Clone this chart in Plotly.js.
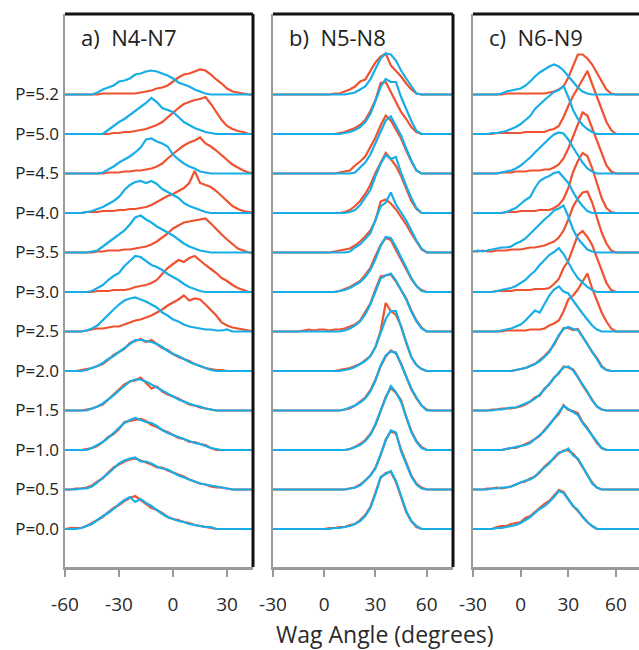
<!DOCTYPE html>
<html><head><meta charset="utf-8">
<script src="https://cdn.plot.ly/plotly-3.0.1.min.js"></script>
<style>html,body{margin:0;padding:0;background:#fff}#chart{width:639px;height:650px}</style>
</head><body><div id="chart"></div>
<script>
// ---------- DATA ----------
const pressures = ['P=0.0','P=0.5','P=1.0','P=1.5','P=2.0','P=2.5','P=3.0','P=3.5','P=4.0','P=4.5','P=5.0','P=5.2'];
const panelTitles = ['a)  N4-N7','b)  N5-N8','c)  N6-N9'];
const xTitle = 'Wag Angle (degrees)';
const ticksA = [-60,-30,0,30];
const ticksBC = [-30,0,30,60];
// wag-angle bins (degrees)
const anglesA = [-60,-57,-54,-51,-48,-45,-42,-39,-36,-33,-30,-27,-24,-21,-18,-15,-12,-9,-6,-3,0,3,6,9,12,15,18,21,24,27,30,33,36,39,42,45];
const anglesBC = [-30,-27,-24,-21,-18,-15,-12,-9,-6,-3,0,3,6,9,12,15,18,21,24,27,30,33,36,39,42,45,48,51,54,57,60,63,66,69,72,75];

// distributions (arbitrary units), one row per pressure P=0.0 ... P=5.2
const aRed = [
[0,1,1,1,3,6,9,12,17,21,24,28,31,33,29,25,21,19,16,12,10,9,7,6,4,3,2,1,0,0,0,0,0,0,0,0],
[0,0,1,1,2,4,8,11,17,22,25,28,30,31,29,27,25,22,22,19,17,15,13,10,8,6,5,3,2,2,1,0,0,0,0,0],
[0,0,0,0,1,2,4,8,13,16,21,28,29,30,31,29,25,23,20,18,15,12,11,8,8,6,5,2,0,0,0,0,0,0,0,0],
[0,0,0,0,1,2,4,6,11,16,20,26,29,30,33,27,22,24,19,16,14,12,9,6,5,3,2,1,0,0,0,0,0,0,0,0],
[0,0,0,1,2,3,5,7,11,16,19,22,28,30,32,29,31,27,23,21,17,14,12,10,7,5,3,2,1,1,0,0,0,0,0,0],
[0,0,0,0,1,2,3,3,4,5,5,7,9,11,12,14,16,19,22,26,29,32,36,31,33,32,27,22,16,9,6,4,3,2,1,0],
[0,0,0,0,0,0,1,1,1,2,2,2,3,5,6,7,9,12,18,24,28,32,30,34,36,31,27,23,19,14,11,7,4,2,0,0],
[0,0,0,0,0,0,1,1,2,2,2,3,3,4,5,6,8,11,15,19,24,27,30,31,32,33,34,29,23,18,13,8,4,2,0,0],
[0,0,0,0,1,1,1,2,2,2,3,3,4,4,5,6,8,11,14,17,19,22,25,30,42,30,28,26,22,17,12,7,4,2,1,0],
[0,0,0,0,0,0,0,0,1,1,1,2,2,3,3,4,5,7,10,15,20,24,28,31,33,36,30,27,23,18,13,9,6,3,1,0],
[0,0,0,0,0,0,0,0,0,1,1,2,2,3,4,5,7,9,12,17,22,26,30,32,34,35,37,30,22,14,8,5,3,2,0,0],
[0,0,0,0,0,0,0,1,1,1,1,1,1,1,2,3,4,6,7,9,13,17,20,21,23,25,24,20,15,11,6,3,2,1,0,0]
];
const aBlue = [
[0,0,0,1,3,5,9,13,16,20,25,29,32,27,30,26,23,19,15,12,10,8,7,5,4,3,2,2,0,0,0,0,0,0,0,0],
[0,0,0,1,1,3,7,12,16,21,26,29,31,32,28,28,26,23,21,20,17,14,12,10,8,6,5,4,3,2,1,0,0,0,0,0],
[0,0,0,0,0,2,5,8,12,17,22,27,30,32,30,28,27,24,20,17,15,13,11,9,7,6,4,2,1,0,0,0,0,0,0,0],
[0,0,0,0,0,2,4,7,11,15,20,25,29,31,31,29,26,23,20,17,14,11,9,7,5,4,2,1,0,0,0,0,0,0,0,0],
[0,0,0,0,1,3,5,8,12,15,19,23,27,31,31,30,29,27,24,20,17,15,12,9,7,5,3,1,0,0,0,0,0,0,0,0],
[0,0,0,0,1,3,6,11,16,22,27,31,33,34,32,30,27,24,19,16,12,10,7,5,4,3,2,2,1,1,2,0,0,0,0,0],
[0,0,0,0,0,1,4,7,12,16,19,26,31,36,35,31,27,25,22,18,15,12,8,5,3,1,0,0,0,0,0,0,0,0,0,0],
[0,0,0,0,0,1,2,6,10,14,18,22,28,35,37,33,30,26,23,20,17,13,9,6,4,2,1,0,0,0,0,0,0,0,0,0],
[0,0,0,0,1,2,4,6,9,12,16,23,28,31,32,30,32,29,24,21,18,15,10,7,5,3,1,0,0,0,0,0,0,0,0,0],
[0,0,0,0,0,0,0,1,4,7,11,14,17,21,26,34,35,32,30,27,19,14,10,7,5,2,1,0,0,0,0,0,0,0,0,0],
[0,0,0,0,0,0,0,0,4,8,12,15,19,23,27,31,36,32,26,24,22,17,12,9,6,4,2,1,0,0,0,0,0,0,0,0],
[0,0,0,0,0,0,2,5,7,9,13,14,16,20,21,23,24,23,21,19,16,12,10,8,5,3,1,0,0,0,0,0,0,0,0,0]
];
const bRed = [
[0,0,0,0,0,0,0,0,0,0,0,1,1,2,2,4,5,9,14,22,36,51,56,57,47,31,17,8,2,0,0,0,0,0,0,0],
[0,0,0,0,0,0,0,0,0,0,0,0,0,0,0,1,2,5,9,14,22,34,50,58,56,40,26,14,6,2,0,0,0,0,0,0],
[0,0,0,0,0,0,0,0,0,0,0,0,0,0,0,1,3,6,10,16,25,39,53,62,57,50,33,19,9,3,0,0,0,0,0,0],
[0,0,0,0,0,0,0,0,0,0,0,0,0,0,1,2,5,9,13,20,31,44,54,60,57,47,34,21,12,5,1,0,0,0,0,0],
[0,0,0,0,0,0,0,0,0,0,0,0,0,1,2,3,5,7,11,15,24,40,68,60,56,45,28,14,6,2,0,0,0,0,0,0],
[0,0,0,0,0,0,1,2,1,2,2,1,2,2,3,5,7,11,19,28,42,55,56,57,50,42,33,21,11,4,0,0,0,0,0,0],
[0,0,0,0,0,0,0,0,0,0,0,0,0,1,3,5,8,11,17,24,36,47,54,52,42,32,22,13,6,2,0,0,0,0,0,0],
[0,0,0,0,0,0,0,0,0,0,0,0,1,2,3,4,7,11,16,22,32,51,53,49,43,36,28,19,11,3,0,0,0,0,0,0],
[0,0,0,0,0,0,0,0,0,0,0,0,0,0,1,3,7,12,19,28,40,50,60,54,47,37,25,12,4,0,0,0,0,0,0,0],
[0,0,0,0,0,0,0,0,0,0,0,0,0,1,2,3,8,12,17,26,36,48,58,53,44,35,23,12,3,0,0,0,0,0,0,0],
[0,0,0,0,0,0,0,0,0,0,0,0,0,1,2,4,6,9,14,23,34,51,52,42,32,22,15,7,2,0,0,0,0,0,0,0],
[0,0,0,0,0,0,0,0,0,0,0,0,1,1,3,5,8,13,15,24,32,38,41,29,24,18,11,5,1,0,0,0,0,0,0,0]
];
const bBlue = [
[0,0,0,0,0,0,0,0,0,0,0,0,1,1,2,3,5,8,13,21,35,52,55,58,48,32,18,8,3,0,0,0,0,0,0,0],
[0,0,0,0,0,0,0,0,0,0,0,0,0,0,0,1,2,4,9,14,21,34,49,59,57,38,25,13,5,1,0,0,0,0,0,0],
[0,0,0,0,0,0,0,0,0,0,0,0,0,0,0,1,3,5,9,15,26,40,52,64,58,48,33,18,8,2,0,0,0,0,0,0],
[0,0,0,0,0,0,0,0,0,0,0,0,0,0,1,3,5,8,12,19,30,45,55,59,58,46,33,22,13,5,0,0,0,0,0,0],
[0,0,0,0,0,0,0,0,0,0,0,0,0,0,1,2,4,7,10,15,24,38,52,60,60,44,28,14,6,2,0,0,0,0,0,0],
[0,0,0,0,0,0,0,0,0,0,0,0,0,0,1,3,6,10,17,27,40,53,56,58,51,42,32,20,10,3,0,0,0,0,0,0],
[0,0,0,0,0,0,0,0,0,0,0,0,0,1,2,4,7,10,15,22,33,46,55,54,45,35,24,14,6,1,0,0,0,0,0,0],
[0,0,0,0,0,0,0,0,0,0,0,0,0,0,0,1,5,8,13,19,33,46,50,60,48,40,32,22,12,4,0,0,0,0,0,0],
[0,0,0,0,0,0,0,0,0,0,0,0,0,0,0,1,3,8,15,23,37,49,58,54,56,40,27,15,5,0,0,0,0,0,0,0],
[0,0,0,0,0,0,0,0,0,0,0,0,0,0,0,0,1,6,11,19,30,42,53,57,47,38,25,13,3,0,0,0,0,0,0,0],
[0,0,0,0,0,0,0,0,0,0,0,0,0,0,1,2,4,7,12,20,33,47,55,52,52,37,25,13,3,0,0,0,0,0,0,0],
[0,0,0,0,0,0,0,0,0,0,0,0,0,0,0,1,2,5,8,15,25,36,41,40,34,24,16,9,1,0,0,0,0,0,0,0]
];
const cRed = [
[0,0,0,0,0,2,3,3,5,6,7,11,13,17,21,25,28,33,39,37,30,23,18,12,7,3,0,0,0,0,0,0,0,0,0,0],
[0,0,0,1,1,2,1,2,3,5,7,8,11,13,17,23,27,31,36,39,39,36,30,22,14,7,2,0,0,0,0,0,0,0,0,0],
[0,0,0,0,0,0,0,1,2,2,4,6,8,11,14,20,26,31,36,45,40,39,37,28,22,14,7,2,0,0,0,0,0,0,0,0],
[0,0,0,0,1,1,2,2,2,3,4,6,9,13,15,22,26,33,37,44,43,41,34,25,18,11,4,1,0,0,0,0,0,0,0,0],
[0,0,0,0,0,0,0,0,0,1,2,3,5,7,11,15,20,26,35,43,43,41,42,35,27,19,13,5,1,0,0,0,0,0,0,0],
[0,0,0,0,0,0,0,1,1,1,1,1,2,2,2,3,6,8,11,20,32,36,42,50,58,43,30,19,10,3,0,0,0,0,0,0],
[0,0,0,0,0,1,1,1,1,2,2,2,2,3,3,3,4,8,13,24,31,43,57,61,55,47,34,21,9,2,0,0,0,0,0,0],
[1,1,2,1,1,2,2,2,3,3,3,4,5,5,6,7,9,11,15,22,33,46,54,60,61,50,35,20,9,2,0,0,0,0,0,0],
[0,0,0,0,0,0,0,1,1,1,2,2,2,2,3,3,3,5,8,14,25,41,52,60,57,45,29,15,5,1,0,0,0,0,0,0],
[0,0,0,0,0,0,1,1,1,2,2,2,3,3,3,4,4,6,9,15,25,37,50,61,58,46,33,20,8,2,0,0,0,0,0,0],
[0,0,0,0,0,1,1,1,1,1,1,2,2,2,2,2,4,5,8,17,28,38,46,54,63,50,37,25,12,4,0,0,0,0,0,0],
[0,0,0,0,0,0,0,1,1,1,1,1,1,1,1,1,2,3,5,8,17,29,40,40,36,30,22,13,5,1,0,0,0,0,0,0]
];
const cBlue = [
[0,0,0,0,0,1,1,2,3,4,6,9,12,16,20,23,27,32,38,36,30,23,19,12,7,3,0,0,0,0,0,0,0,0,0,0],
[0,0,0,0,1,1,2,2,3,5,7,9,10,13,18,22,26,32,37,38,41,34,31,23,15,6,2,0,0,0,0,0,0,0,0,0],
[0,0,0,0,0,0,0,1,2,3,4,5,7,11,15,19,25,31,37,44,41,38,35,27,21,15,8,2,0,0,0,0,0,0,0,0],
[0,0,0,0,0,1,1,2,3,3,5,7,9,12,16,21,27,32,38,43,44,40,33,26,19,10,4,1,0,0,0,0,0,0,0,0],
[0,0,0,0,0,0,0,0,0,1,2,3,5,7,10,14,19,27,36,42,44,42,41,34,27,20,12,4,1,0,0,0,0,0,0,0],
[0,0,0,0,0,0,1,2,3,5,7,11,16,21,19,28,36,42,45,40,38,31,24,18,12,6,2,0,0,0,0,0,0,0,0,0],
[0,0,0,0,0,1,2,3,4,6,9,12,17,21,27,32,37,40,44,38,29,21,14,9,5,2,0,0,0,0,0,0,0,0,0,0],
[1,2,1,2,3,4,5,5,6,9,11,14,19,24,29,33,37,42,44,47,36,23,14,8,3,1,0,0,0,0,0,0,0,0,0,0],
[0,0,0,0,0,0,0,1,3,5,9,13,16,25,32,35,37,40,41,36,30,21,13,7,2,0,0,0,0,0,0,0,0,0,0,0],
[0,0,0,0,0,0,1,2,3,5,8,12,16,21,26,31,35,39,41,40,34,26,18,11,5,2,0,0,0,0,0,0,0,0,0,0],
[0,0,0,0,1,1,2,3,5,7,10,14,18,25,30,34,38,42,44,48,37,24,15,9,5,2,0,0,0,0,0,0,0,0,0,0],
[0,0,0,0,0,0,1,3,4,5,6,9,13,18,22,25,28,30,28,24,18,12,7,3,1,0,0,0,0,0,0,0,0,0,0,0]
];

// ---------- STYLE ----------
const RED = '#EF5230', BLUE = '#18ADE6';
const GAP = 39.5;            // vertical offset between stacked pressures
const W = 639, H = 650;
const FONT = 'Open Sans, Lato, sans-serif';
const panels = [
  {red: aRed, blue: aBlue, x: anglesA, xa: 'x',  ya: 'y',  dom: [65, 253], range: [-60, 44.4], ticks: ticksA},
  {red: bRed, blue: bBlue, x: anglesBC, xa: 'x2', ya: 'y2', dom: [273, 453], range: [-30, 75.4], ticks: ticksBC},
  {red: cRed, blue: cBlue, x: anglesBC, xa: 'x3', ya: 'y3', dom: [473, 639], range: [-30, 74.5], ticks: ticksBC}
];
const yTop = 14, yBot = 567;
const yRange = [-(yBot - 529), 529 - yTop];

const traces = [];
panels.forEach(p => {
  ['red','blue'].forEach(s => {
    p[s].forEach((h, k) => {
      traces.push({
        type: 'scatter', mode: 'lines', xaxis: p.xa, yaxis: p.ya,
        x: p.x, y: p.x.map((_, i) => (h[i] || 0) + k * GAP),
        line: {color: s === 'red' ? RED : BLUE, width: 2.2},
        hoverinfo: 'skip', showlegend: false
      });
    });
  });
});

const layout = {
  width: W, height: H, margin: {l: 0, r: 0, t: 0, b: 0},
  paper_bgcolor: '#fff', plot_bgcolor: '#fff', showlegend: false,
  font: {family: FONT, color: '#333'},
  shapes: [], annotations: []
};
panels.forEach((p, j) => {
  const n = j === 0 ? '' : String(j + 1);
  layout['xaxis' + n] = {
    domain: [p.dom[0] / W, p.dom[1] / W], range: p.range, anchor: 'y' + n,
    showgrid: false, zeroline: false, showline: true, linecolor: '#9a9a9a', linewidth: 2.5,
    ticks: 'outside', ticklen: 7, tickwidth: 2, tickcolor: '#9a9a9a',
    tickvals: p.ticks, ticktext: p.ticks.map(String), ticklabelstandoff: 12,
    tickfont: {size: 19, color: '#2a2a2a', family: FONT}, fixedrange: true
  };
  layout['yaxis' + n] = {
    domain: [(H - yBot) / H, (H - yTop) / H], range: yRange, anchor: 'x' + n,
    showgrid: false, zeroline: false, showline: true, linecolor: '#9a9a9a', linewidth: 2.5,
    ticks: '', tickvals: j === 0 ? pressures.map((_, k) => k * GAP) : [],
    ticktext: j === 0 ? pressures : [], showticklabels: j === 0,
    tickfont: {size: 17, color: '#222', family: FONT}, fixedrange: true
  };
  const xr = 'x' + n + ' domain', yr = 'y' + n + ' domain';
  layout.shapes.push({type: 'line', xref: xr, yref: yr, x0: 0, x1: 1, y0: 1, y1: 1, line: {color: '#111', width: 3}});
  if (j < 2) layout.shapes.push({type: 'line', xref: xr, yref: yr, x0: 1, x1: 1, y0: 0, y1: 1, line: {color: '#111', width: 3}});
  layout.annotations.push({
    text: panelTitles[j], xref: xr, yref: 'paper', x: 14 / (p.dom[1] - p.dom[0]), y: 1 - 37 / H,
    xanchor: 'left', yanchor: 'middle', showarrow: false, font: {size: 22, color: '#222', family: FONT}
  });
});
layout.annotations.push({
  text: xTitle, xref: 'paper', yref: 'paper', x: 385 / W, y: 1 - 634 / H,
  xanchor: 'center', yanchor: 'middle', showarrow: false, font: {size: 23, color: '#2a2a2a', family: FONT}
});

Plotly.newPlot('chart', traces, layout, {displayModeBar: false, staticPlot: true});
</script>
</body></html>
